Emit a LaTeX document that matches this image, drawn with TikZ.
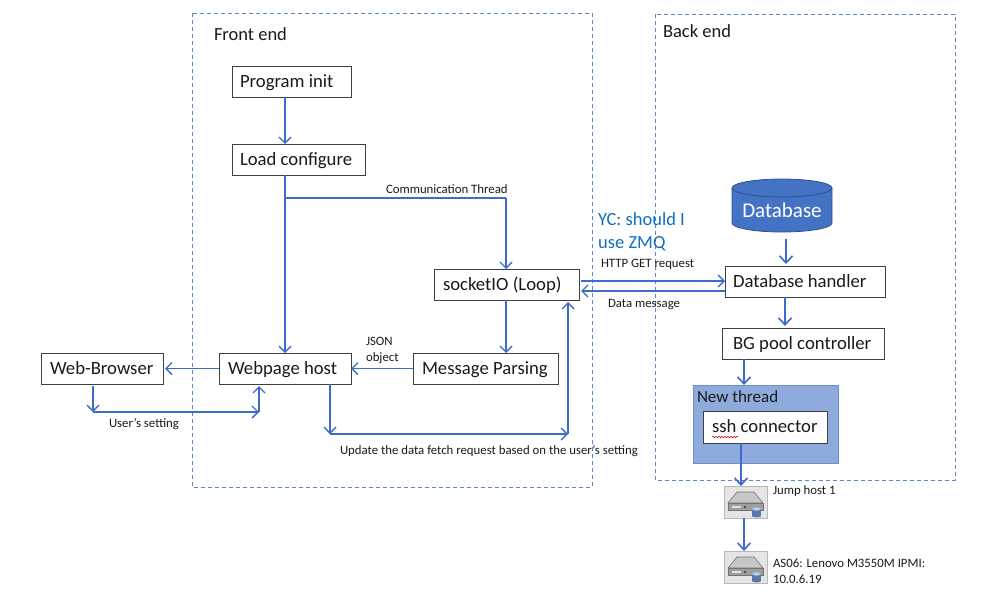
\documentclass[tikz,border=0pt]{standalone}
\usepackage{fontspec}
\setmainfont{Carlito}
\usetikzlibrary{arrows.meta,calc,decorations.pathmorphing}
\definecolor{lineblue}{HTML}{3D6CC8}
\definecolor{dashblue}{HTML}{5B84D0}
\definecolor{threadfill}{HTML}{8FAADC}
\definecolor{threadline}{HTML}{6E8FCB}
\definecolor{dbfill}{HTML}{4472C4}
\definecolor{dbline}{HTML}{2F528F}
\definecolor{noteblue}{HTML}{0F70C0}
\definecolor{txt}{HTML}{1A1A1A}
\tikzset{
  x=1pt,y=-1pt,
  procbox/.style={draw=black!75,line width=1pt,fill=white,inner xsep=0pt,inner ysep=0pt,outer sep=0pt,minimum height=31pt,text height=14pt,text depth=3pt,font=\fontsize{18.7}{20}\selectfont,text=txt,anchor=north west},
  region/.style={draw=dashblue,line width=1pt,dash pattern=on 4pt off 3pt},
  link/.style={draw=lineblue,line width=2pt,-{Straight Barb[length=7pt,width=13pt,line width=1.6pt]}},
  thinlink/.style={draw=lineblue,line width=1.6pt,-{Straight Barb[length=6pt,width=12pt,line width=1.4pt]}},
  plainlink/.style={draw=lineblue,line width=1.6pt},
  small/.style={font=\fontsize{12.8}{16}\selectfont,text=txt,inner sep=0pt,outer sep=0pt},
  title/.style={font=\fontsize{18.5}{20}\selectfont,text=txt,inner sep=0pt,outer sep=0pt},
}
% box text: width, left inset, text
\newcommand{\boxtext}[3]{\makebox[#1pt][l]{\hspace{#2pt}#3}}
\newcommand{\servericon}[1]{%
  \begin{scope}[shift={(#1)}]
    \fill[black!10] (0,0) rectangle (43,32);
    \draw[black!28,line width=.7pt] (0,0) rectangle (43,32);
    \fill[black!22,draw=black!55,line width=.6pt] (13,6) -- (30,6) -- (39,17) -- (4,17) -- cycle;
    \fill[black!38,draw=black!55,line width=.6pt] (4,17) -- (39,17) -- (39,24) -- (4,24) -- cycle;
    \fill[black!12] (8,19.5) rectangle (17,21.5);
    \fill[black!70] (20,19.5) rectangle (22,21.5);
    \fill[dbfill!65!gray] (28,23) rectangle (37,30);
    \fill[dbfill!65!gray] (32.5,30) ellipse (4.5pt and 1.4pt);
    \fill[dbfill!35!white] (32.5,23) ellipse (4.5pt and 1.6pt);
  \end{scope}}
\begin{document}
\begin{tikzpicture}
\useasboundingbox (0,0) rectangle (1000,600);
% regions
\draw[region] (192,13) rectangle (592,487);
\draw[region] (655,14) rectangle (955,480);
\node[title,anchor=west] (fe) at (214,34) {Front end};
\node[title,anchor=west] (be) at (663,31) {Back end};
% thread container
\node[draw=threadline,line width=1pt,fill=threadfill,minimum width=145pt,minimum height=78pt,inner sep=0pt,outer sep=0pt,anchor=north west] (thread) at (693,385) {};
\node[title,anchor=west,font=\fontsize{17}{20}\selectfont] (threadlabel) at (697,396.5) {New thread};
% boxes
\node[procbox] (init) at (232,66) {\boxtext{119}{8}{Program init}};
\node[procbox] (load) at (232,144) {\boxtext{133}{8}{Load configure}};
\node[procbox] (socket) at (434,269) {\boxtext{145}{9}{socketIO (Loop)}};
\node[procbox] (parse) at (413,353) {\boxtext{145}{9}{Message Parsing}};
\node[procbox] (host) at (219,353) {\boxtext{132}{9}{Webpage host}};
\node[procbox] (browser) at (41,353) {\boxtext{122}{9}{Web-Browser}};
\node[procbox] (handler) at (725,266) {\boxtext{160}{8}{Database handler}};
\node[procbox] (bg) at (722,328) {\boxtext{162}{11}{BG pool controller}};
\node[procbox,minimum height=32pt] (ssh) at (703,411) {\boxtext{124}{9}{ssh connector}};
\coordinate (sq1) at (712,437);
\coordinate (sq2) at (738,437);
\draw[red!75!black,line width=.5pt,decorate,decoration={snake,amplitude=.7pt,segment length=3pt}] (sq1) -- (sq2);
% database
\path[fill=dbfill,draw=dbline,line width=.8pt] (732,188) -- (732,223) arc[start angle=180,end angle=0,x radius=50,y radius=9] -- (832,188) arc[start angle=0,end angle=-180,x radius=50,y radius=9] -- cycle;
\draw[dbline,line width=.8pt] (732,188) arc[start angle=180,end angle=0,x radius=50,y radius=9];
\node[inner sep=0pt,minimum width=100pt,minimum height=53pt,outer sep=0pt] (db) at (782,206) {};
\node[text=white,font=\fontsize{21}{22}\selectfont,inner sep=0pt] (dbt) at (782,210) {Database};
% servers
\servericon{724,486}
\servericon{724,551}
\coordinate (jump) at (744,486);
\coordinate (jumpb) at (744,518);
\coordinate (as) at (744,551);
% labels
\node[small,anchor=west] (l1) at (386,189) {Communication Thread};
\node[small,anchor=west] (l2) at (601,264) {HTTP GET request};
\node[small,anchor=west] (l3) at (608,304) {Data message};
\node[small,align=left,anchor=west] (l4) at (366,350) {JSON\\object};
\node[small,anchor=west] (l5) at (109,424) {User’s setting};
\node[small,anchor=west] (l6) at (340,451) {Update the data fetch request based on the user’s setting};
\node[small,anchor=west] (l7) at (773,491) {Jump host 1};
\node[small,align=left,anchor=west] (l8) at (773,571) {AS06: Lenovo M3550M IPMI:\\10.0.6.19};
\node[font=\fontsize{18.5}{22.5}\selectfont,text=noteblue,align=left,anchor=west,inner sep=0pt] (note) at (598,232) {YC: should I\\use ZMQ};
% connector points
\coordinate (branch) at (285,198);
\coordinate (comm) at (506,198);
\coordinate (b1) at (93,412);
\coordinate (b2) at (259,412);
\coordinate (u1) at (330,434);
\coordinate (u2) at (568,434);
\coordinate (req) at (581,281);
\coordinate (msg) at (581,291);
\coordinate (dbx) at (786,0);
\coordinate (hx) at (785,0);
\coordinate (bgx) at (744,0);
\coordinate (sshx) at (741,0);
% connectors
\draw[thinlink] (init.south -| branch) -- (load.north -| branch);
\draw[thinlink] (load.south -| branch) -- (host.north -| branch);
\draw[plainlink] (branch) -- (comm);
\draw[thinlink] (comm) -- (socket.north -| comm);
\draw[thinlink] (socket.south -| comm) -- (parse.north -| comm);
\draw[thinlink] (parse.west) -- (host.east);
\draw[thinlink] (host.west) -- ([xshift=2pt]browser.east);
\draw[thinlink] ([yshift=-2pt]browser.south -| b1) -- (b1);
\draw[thinlink] (b1) -- (b2);
\draw[thinlink] (b2) -- ([yshift=-2pt]host.south -| b2);
\draw[thinlink] (host.south -| u1) -- (u1);
\draw[thinlink] (u1) -- (u2);
\draw[thinlink] (u2) -- ([yshift=-2pt]socket.south -| u2);
\draw[thinlink] (req) -- (handler.west |- req);
\draw[thinlink] (handler.west |- msg) -- (msg);
\draw[link] ([yshift=-6pt]db.south -| dbx) -- ([yshift=2pt]handler.north -| dbx);
\draw[link] (handler.south -| hx) -- ([yshift=2pt]bg.north -| hx);
\draw[link] (bg.south -| bgx) -- (thread.north -| bgx);
\draw[link] (ssh.south -| sshx) -- (jump -| sshx);
\draw[link] (jumpb) -- (as);
\end{tikzpicture}
\end{document}
